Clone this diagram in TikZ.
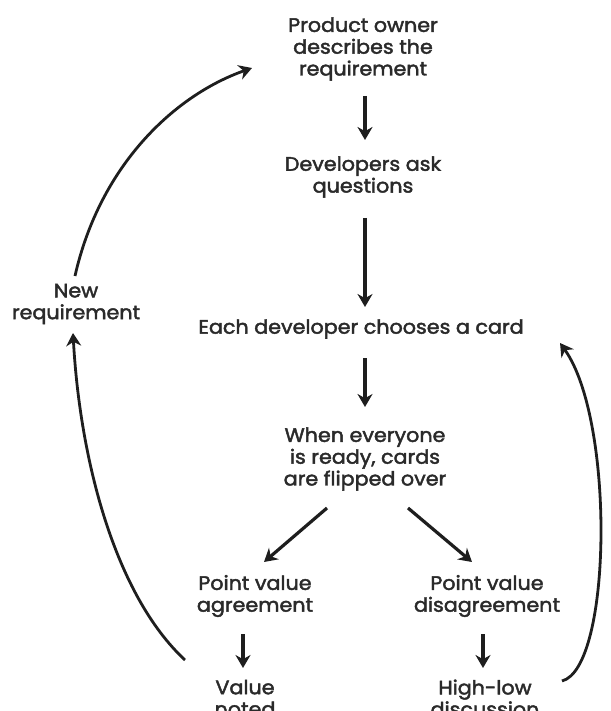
\documentclass[tikz,border=0pt]{standalone}
\usepackage{fontspec}
\setmainfont{Poppins}[FakeStretch=1.06,FakeBold=2.2]
\usetikzlibrary{arrows.meta}
\definecolor{ink}{HTML}{1E1E1E}
\definecolor{txt}{HTML}{2A2A2A}
\begin{document}
\begin{tikzpicture}[x=1pt,y=-1pt,
  label/.style={align=center,text=txt,font=\fontsize{19.5}{21.8}\selectfont,inner sep=0pt},
  flow/.style={draw=ink,line width=3.2pt,-{Stealth[length=13pt,width=15pt]}},
  loop/.style={draw=ink,line width=2.8pt,-{Stealth[length=13pt,width=15pt]}}]
  \useasboundingbox (0,0) rectangle (610,711);
  \clip (0,0) rectangle (610,711);

  % steps of the estimation round
  \node[label] (po)   at (363,49)  {Product owner\\describes the\\requirement};
  \node[label] (ask)  at (363,177) {Developers ask\\questions};
  \node[label] (card) at (361,329) {Each developer chooses a card};
  \node[label] (flip) at (365,459) {When everyone\\is ready, cards\\are flipped over};
  \node[label] (agr)  at (255,596) {Point value\\agreement};
  \node[label] (dis)  at (487,596) {Point value\\disagreement};
  \node[label] (val)  at (245,698) {Value\\noted};
  \node[label] (hl)   at (485,698) {High-low\\discussion};
  \node[label] (new)  at (76,304)  {New\\requirement};

  % anchor points of the connectors
  \coordinate (a1) at (365,96);   \coordinate (b1) at (365,140);
  \coordinate (a2) at (365,218);  \coordinate (b2) at (365,307);
  \coordinate (a3) at (365,358);  \coordinate (b3) at (365,407);
  \coordinate (a4) at (327,508);  \coordinate (b4) at (264,562);
  \coordinate (a5) at (408,508);  \coordinate (b5) at (472,562);
  \coordinate (a6) at (243,634);  \coordinate (b6) at (243,668);
  \coordinate (a7) at (483,634);  \coordinate (b7) at (483,668);
  \coordinate (c1) at (75,276);   \coordinate (d1) at (252,68);
  \coordinate (c2) at (185,660);  \coordinate (d2) at (73,333);
  \coordinate (c3) at (562,681);  \coordinate (d3) at (560,343);

  % straight steps
  \draw[flow] (a1) -- (b1);
  \draw[flow] (a2) -- (b2);
  \draw[flow] (a3) -- (b3);
  \draw[flow] (a4) -- (b4);
  \draw[flow] (a5) -- (b5);
  \draw[flow] (a6) -- (b6);
  \draw[flow] (a7) -- (b7);

  % loops back
  \draw[loop] (c1) .. controls (100,165) and (175,95) .. (d1);
  \draw[loop] (c2) .. controls (115,595) and (80,460) .. (d2);
  \draw[loop] (c3) .. controls (612,668) and (615,420) .. (d3);
\end{tikzpicture}
\end{document}
